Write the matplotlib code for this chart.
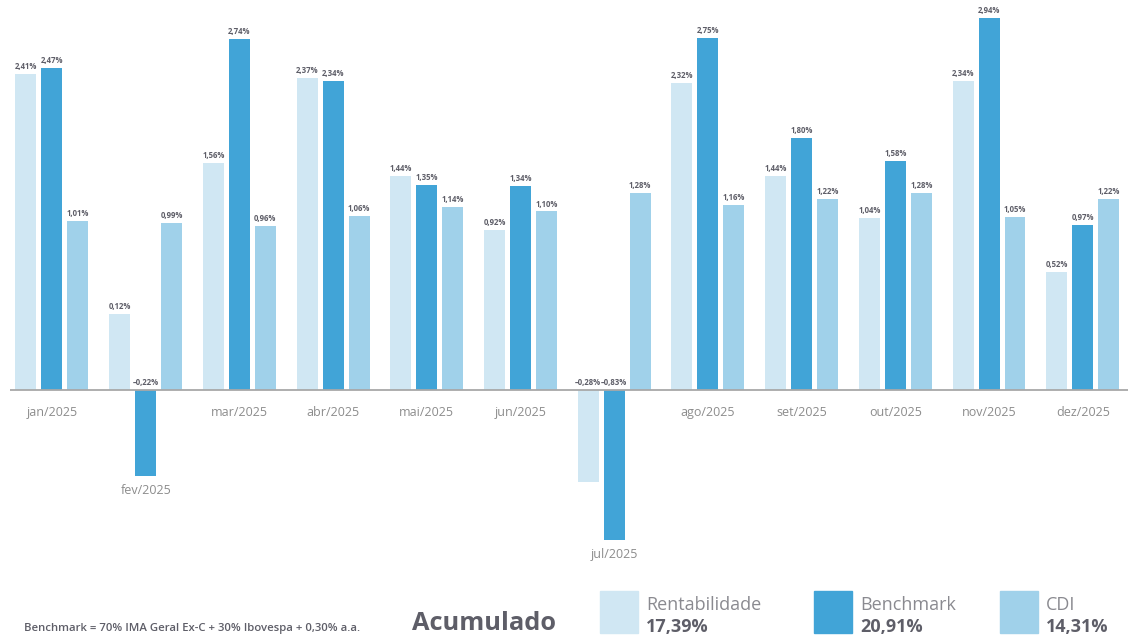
"""
Rentabilidade mensal x Benchmark x CDI (2025).
"""
import numpy as np
import matplotlib
matplotlib.use('Agg')
import matplotlib.pyplot as plt
from matplotlib import rcParams

rcParams['font.family'] = ['Open Sans', 'DejaVu Sans']

months = ['jan/2025', 'fev/2025', 'mar/2025', 'abr/2025', 'mai/2025', 'jun/2025',
          'jul/2025', 'ago/2025', 'set/2025', 'out/2025', 'nov/2025', 'dez/2025']
rentab = [2.41, 0.12, 1.56, 2.37, 1.44, 0.92, -0.28, 2.32, 1.44, 1.04, 2.34, 0.52]
bench = [2.47, -0.22, 2.74, 2.34, 1.35, 1.34, -0.83, 2.75, 1.80, 1.58, 2.94, 0.97]
cdi = [1.01, 0.99, 0.96, 1.06, 1.14, 1.10, 1.28, 1.16, 1.22, 1.28, 1.05, 1.22]

series_names = ['Rentabilidade', 'Benchmark', 'CDI']
accum = ['17,39%', '20,91%', '14,31%']
footnote = 'Benchmark = 70% IMA Geral Ex-C + 30% Ibovespa + 0,30% a.a.'

colors = ['#D0E7F3', '#41A4D7', '#A0D1EA']
gray_txt = '#5E5E68'
month_col = '#8C8C8C'

# bars start at a minimum visual height (offset) away from the zero line
OFF = 0.6


def fwd(y):
  y = np.asarray(y, dtype=float)
  return np.sign(y) * (OFF + np.abs(y))


def inv(y):
  y = np.asarray(y, dtype=float)
  return np.sign(y) * np.maximum(np.abs(y) - OFF, 0)


fig = plt.figure(figsize=(11.38, 6.4), dpi=100)
ax = fig.add_axes([0, 0, 1, 1])
ax.set_yscale('function', functions=(fwd, inv))

pitch = 93.7
x = np.arange(len(months))
w = 21 / pitch
dx = 26 / pitch

for i, vals in enumerate([rentab, bench, cdi]):
  xs = x + (i - 1) * dx
  ax.bar(xs, vals, width=w, color=colors[i], zorder=2)
  for xi, v in zip(xs, vals):
    lab = f'{v:.2f}%'.replace('.', ',').replace('-', '–')
    y0 = v if v >= 0 else 0
    ax.annotate(lab, (xi, y0), xytext=(0, 3), textcoords='offset pixels',
                ha='center', va='bottom', fontsize=5.6, fontweight='bold', color=gray_txt)

# baseline
ax.hlines(0, -0.45, 11.48, color='#A8A8A8', lw=1.3, zorder=3)

# month labels (below bars when group has a negative bar)
for xi, m, a, b, c in zip(x, months, rentab, bench, cdi):
  lo = min(a, b, c)
  if lo < 0:
    ax.annotate(m, (xi, lo), xytext=(0, -8), textcoords='offset pixels',
                ha='center', va='top', fontsize=9, color=month_col)
  else:
    ax.annotate(m, (xi, 0), xytext=(0, -16), textcoords='offset pixels',
                ha='center', va='top', fontsize=9, color=month_col)

ax.set_xlim(-52 / pitch, (1138 - 52) / pitch)
ax.set_ylim(inv(-(640 - 390) / 105), inv(390 / 105))
ax.axis('off')

# footer
fig.text(24 / 1138, 1 - 628 / 640, footnote, fontsize=8.2, color=gray_txt,
         ha='left', va='center', fontweight='semibold')
fig.text(412 / 1138, 1 - 623 / 640, 'Acumulado', fontsize=18.3, color=gray_txt,
         ha='left', va='center', fontweight='bold')

sq_x = [600, 814, 1000]
for sx, name, acc, col in zip(sq_x, series_names, accum, colors):
  fig.patches.append(plt.Rectangle((sx / 1138, 1 - 633 / 640), 38 / 1138, 42 / 640,
                                   transform=fig.transFigure, color=col))
  fig.text((sx + 46) / 1138, 1 - 605 / 640, name, fontsize=13, color='#8A8A90',
           ha='left', va='center')
  fig.text((sx + 46) / 1138, 1 - 627 / 640, acc, fontsize=13, color=gray_txt,
           ha='left', va='center', fontweight='bold')

fig.savefig('out.png', dpi=100)
